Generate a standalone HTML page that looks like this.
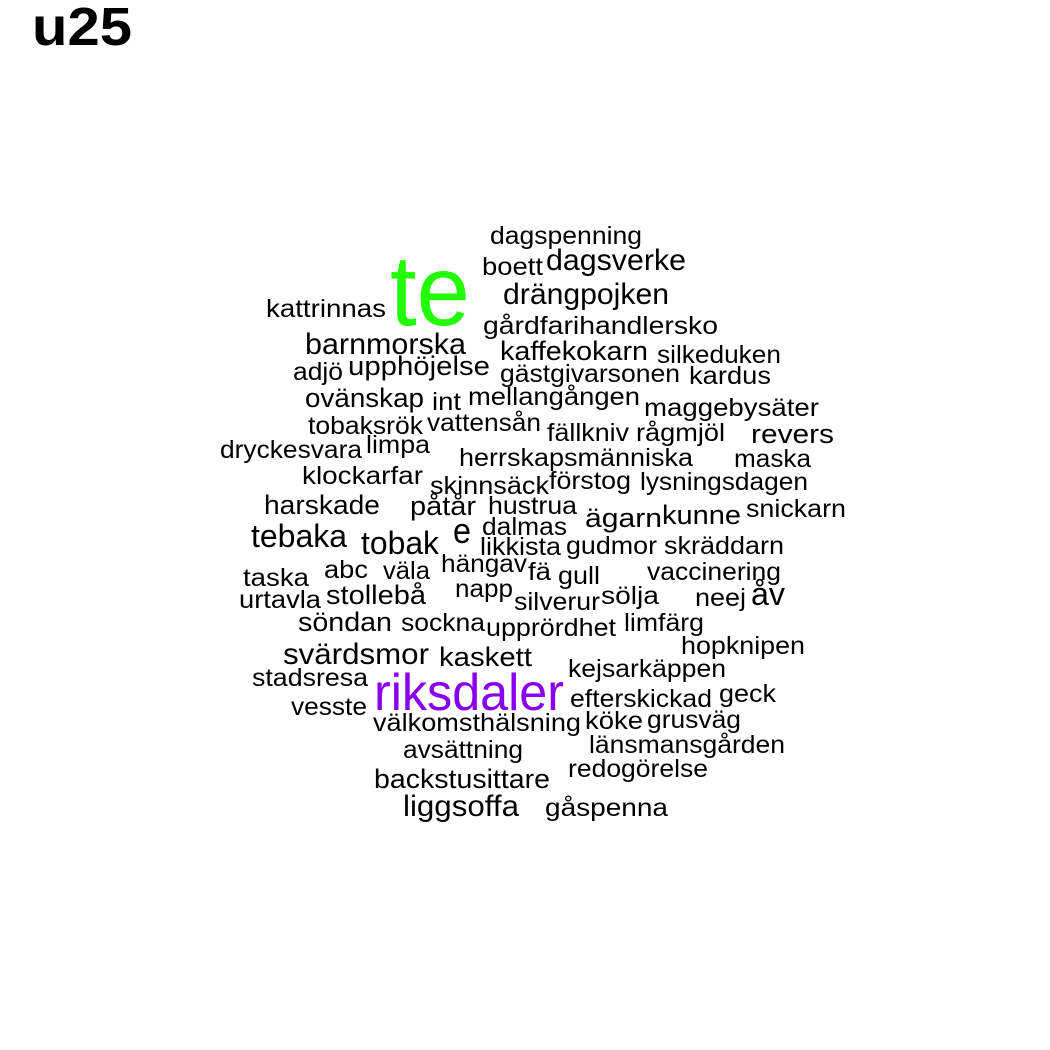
<!DOCTYPE html>
<html><head><meta charset="utf-8"><style>
html,body{margin:0;padding:0;background:#fff;}
svg{display:block;font-family:"Liberation Sans",Arial,sans-serif;}
</style></head><body>
<svg id="cloud" width="1050" height="1050" viewBox="0 0 1050 1050" xmlns="http://www.w3.org/2000/svg">
<rect width="1050" height="1050" fill="#fff"/>
<text x="32" y="45" font-size="54" font-weight="bold" fill="#000" textLength="100" lengthAdjust="spacingAndGlyphs">u25</text>
<g id="words"></g>
</svg>
<script>
const words = ["dagspenning","boett","dagsverke","te","kattrinnas","drängpojken","gårdfarihandlersko","barnmorska","kaffekokarn","silkeduken","adjö","upphöjelse","gästgivarsonen","kardus","ovänskap","int","mellangången","maggebysäter","tobaksrök","vattensån","fällkniv","rågmjöl","revers","dryckesvara","limpa","herrskapsmänniska","maska","klockarfar","skinnsäck","förstog","lysningsdagen","harskade","påtår","hustrua","ägarn","kunne","snickarn","dalmas","e","tebaka","tobak","likkista","gudmor","skräddarn","hängav","taska","abc","väla","fä","gull","vaccinering","napp","urtavla","stollebå","silverur","sölja","neej","åv","söndan","sockna","upprördhet","limfärg","hopknipen","svärdsmor","kaskett","kejsarkäppen","stadsresa","riksdaler","efterskickad","geck","vesste","välkomsthälsning","köke","grusväg","länsmansgården","avsättning","redogörelse","backstusittare","liggsoffa","gåspenna"];
const freqs = [1,1,2,10,1,2,1,2,1.5,1,1,1.5,1,1,1.5,1,1,1,1,1,1,1,1.5,1,1,1,1,1,1,1,1,1.5,1.5,1,1.5,1.5,1,1,3,2.5,2.5,1,1,1,1,1,1,1,1,1,1,1,1,1.5,1,1,1,2.5,1.5,1,1,1,1,2,1.5,1,1,5,1,1,1,1,1,1,1,1,1,1.5,2,1];
// layout (left, right, baseline) from the rendered cloud
const layout = [[490,642,244],[482,543,275],[546,686,270],[390,470,325],[266,386,317],[503,669,304],[483,718,334],[305,466,354],[500,648,360],[657,781,363],[293,343,380],[348,490,375],[500,680,382],[689,771,384],[305,424,407],[432,461,410],[468,640,405],[644,819,416],[308,423,434],[427,541,431],[547,629,441],[636,725,441],[751,834,443],[220,362,458],[366,430,453],[459,693,466],[734,811,467],[302,423,484],[430,549,494],[549,631,489],[640,808,490],[264,380,514],[410,476,515],[488,577,514],[585,662,527],[662,741,524],[746,846,517],[482,567,535],[453,471,543],[251,347,547],[361,439,554],[480,561,555],[566,657,554],[664,784,554],[441,527,572],[243,309,586],[324,368,578],[383,430,579],[528,551,580],[558,600,584],[647,781,580],[455,513,597],[239,321,608],[326,426,604],[514,600,610],[601,659,604],[695,746,606],[751,785,605],[298,392,631],[401,485,631],[486,616,636],[624,704,631],[681,805,654],[283,429,664],[439,532,666],[568,726,677],[252,368,686],[374,564,710],[570,712,707],[719,776,702],[291,367,715],[373,581,731],[585,643,729],[647,741,728],[589,785,753],[403,523,758],[568,708,777],[374,550,788],[403,519,816],[545,668,816]];
function sizeOf(f){ if(f>=10) return 100; if(f>=5) return 52; if(f>=3) return 36; if(f>=2.5) return 32; if(f>=2) return 30; if(f>=1.5) return 27; return 25; }
function colorOf(f){ if(f>=10) return "#22ff00"; if(f>=5) return "#8800ee"; return "#000"; }
const g = document.getElementById('words');
words.forEach((w,i)=>{
  const t = document.createElementNS('http://www.w3.org/2000/svg','text');
  const L = layout[i];
  t.setAttribute('x', L[0]);
  t.setAttribute('y', L[2]);
  t.setAttribute('font-size', sizeOf(freqs[i]));
  t.setAttribute('fill', colorOf(freqs[i]));
  t.setAttribute('textLength', L[1]-L[0]);
  t.setAttribute('lengthAdjust', 'spacingAndGlyphs');
  t.textContent = w;
  
  
  g.appendChild(t);
});
</script>
</body></html>
